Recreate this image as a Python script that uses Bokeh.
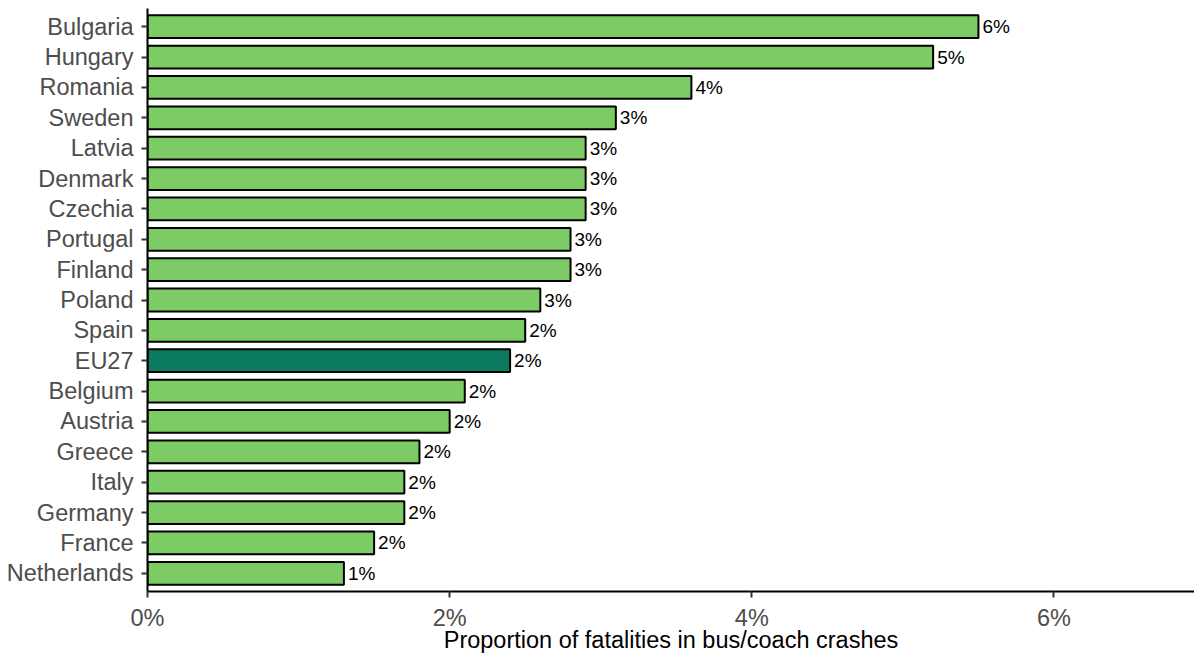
from bokeh.plotting import figure
from bokeh.models import FactorRange, Range1d, ColumnDataSource, FixedTicker, CustomJSTickFormatter
from bokeh.core.properties import value
from bokeh.embed import file_html
from bokeh.resources import INLINE

countries = ["Bulgaria", "Hungary", "Romania", "Sweden", "Latvia", "Denmark", "Czechia",
             "Portugal", "Finland", "Poland", "Spain", "EU27", "Belgium", "Austria",
             "Greece", "Italy", "Germany", "France", "Netherlands"]
shares = [5.5, 5.2, 3.6, 3.1, 2.9, 2.9, 2.9, 2.8, 2.8, 2.6, 2.5, 2.4, 2.1, 2.0,
          1.8, 1.7, 1.7, 1.5, 1.3]
x_ticks = [0, 2, 4, 6]

GREEN = "#7DCB64"
DARK = "#0B7A5E"
FONT = "Liberation Sans"

colors = [DARK if c == "EU27" else GREEN for c in countries]
labels = [f"{round(v)}%" for v in shares]

src = ColumnDataSource(dict(country=countries, share=shares, color=colors, label=labels))

p = figure(width=1194, height=656, output_backend="svg", toolbar_location=None,
           y_range=FactorRange(factors=list(reversed(countries)),
                               range_padding=0.1, range_padding_units="absolute"),
           x_range=Range1d(0, 6.93))
p.min_border_left = 147
p.min_border_right = 0
p.min_border_top = 8
p.min_border_bottom = 65
p.outline_line_color = None
p.grid.grid_line_color = None
p.background_fill_color = "white"

p.hbar(y="country", right="share", left=0, height=0.75, source=src,
       fill_color="color", line_color="black", line_width=2)

p.text(x="share", y="country", text="label", source=src, x_offset=4,
       text_baseline="middle", text_align="left", text_font=value(FONT),
       text_font_size="19px", text_color="black")

xa = p.xaxis[0]
xa.ticker = FixedTicker(ticks=x_ticks)
xa.formatter = CustomJSTickFormatter(code="return tick + '%';")
xa.axis_label = "Proportion of fatalities in bus/coach crashes"
xa.axis_label_text_font = FONT
xa.axis_label_text_font_style = "normal"
xa.axis_label_text_font_size = "23.5px"
xa.axis_label_text_color = "black"
xa.axis_label_standoff = -7
xa.major_label_text_font = FONT
xa.major_label_text_font_size = "23.5px"
xa.major_label_text_color = "#4D4D4D"
xa.major_label_standoff = 7
xa.minor_tick_line_color = None
xa.major_tick_out = 6
xa.major_tick_in = 0
xa.major_tick_line_color = "#333333"
xa.major_tick_line_width = 2
xa.axis_line_color = "black"
xa.axis_line_width = 2

ya = p.yaxis[0]
ya.major_label_text_font = FONT
ya.major_label_text_font_size = "23.5px"
ya.major_label_text_color = "#4D4D4D"
ya.major_label_standoff = 8
ya.major_tick_out = 6
ya.major_tick_in = 0
ya.major_tick_line_color = "#333333"
ya.major_tick_line_width = 2
ya.axis_line_color = "black"
ya.axis_line_width = 2

open("out.html", "w").write(file_html(p, INLINE))
